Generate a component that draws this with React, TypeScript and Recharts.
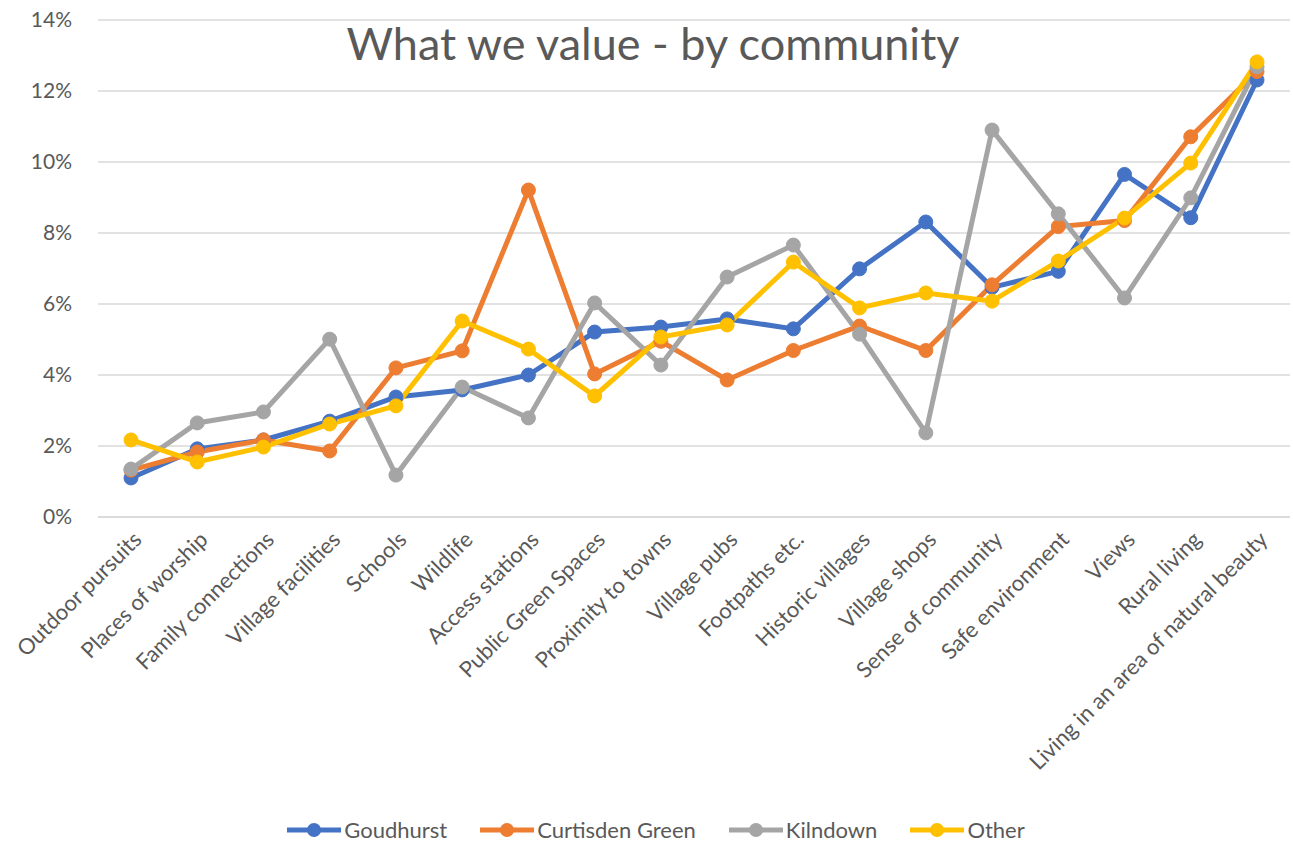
import {CartesianGrid, Line, LineChart, XAxis, YAxis} from 'recharts';

const categories = [
  'Outdoor pursuits',
  'Places of worship',
  'Family connections',
  'Village facilities',
  'Schools',
  'Wildlife',
  'Access  stations',
  'Public Green Spaces',
  'Proximity to towns',
  'Village pubs',
  'Footpaths etc.',
  'Historic villages',
  'Village shops',
  'Sense of community',
  'Safe environment',
  'Views',
  'Rural living',
  'Living in an area of natural beauty',
];

const goudhurst = [1.1, 1.92, 2.17, 2.7, 3.38, 3.58, 4.0, 5.21, 5.35, 5.58, 5.3, 6.99, 8.31, 6.47, 6.92, 9.65, 8.43, 12.31];
const curtisdenGreen = [1.32, 1.83, 2.17, 1.86, 4.2, 4.68, 9.21, 4.03, 4.95, 3.86, 4.69, 5.38, 4.69, 6.54, 8.18, 8.35, 10.71, 12.55];
const kilndown = [1.35, 2.65, 2.96, 5.01, 1.18, 3.66, 2.79, 6.03, 4.28, 6.76, 7.66, 5.15, 2.37, 10.9, 8.54, 6.17, 8.99, 12.68];
const other = [2.17, 1.55, 1.97, 2.62, 3.13, 5.52, 4.73, 3.41, 5.07, 5.41, 7.18, 5.89, 6.31, 6.08, 7.21, 8.42, 9.97, 12.82];

const yTicks = [0, 2, 4, 6, 8, 10, 12, 14];

const series = [
  {key: 'goudhurst', name: 'Goudhurst', color: '#4472C4', values: goudhurst},
  {key: 'curtisden', name: 'Curtisden Green', color: '#ED7D31', values: curtisdenGreen},
  {key: 'kilndown', name: 'Kilndown', color: '#A5A5A5', values: kilndown},
  {key: 'other', name: 'Other', color: '#FFC000', values: other},
];

const data = categories.map((name, i) => {
  const row: Record<string, string | number> = {name};
  series.forEach((s) => {
    row[s.key] = s.values[i];
  });
  return row;
});

const font = 'Lato, "Open Sans", sans-serif';
const textColor = '#595959';

function CategoryTick(props: any) {
  const {x, y, payload} = props;
  return (
    <text
      transform={`translate(${x + 8},${y + 12}) rotate(-45)`}
      textAnchor="end"
      dominantBaseline="middle"
      fontSize={22}
      fontFamily={font}
      fill={textColor}
    >
      {payload.value}
    </text>
  );
}

// legend drawn as a plain div so it does not shift the plot area
function ChartLegend() {
  return (
    <div
      style={{
        position: 'absolute',
        top: 817,
        left: 0,
        width: 1293,
        height: 26,
        boxSizing: 'border-box',
        paddingLeft: 18,
        display: 'flex',
        justifyContent: 'center',
        alignItems: 'center',
        gap: 32,
        fontFamily: font,
        fontSize: 22,
        lineHeight: '26px',
        color: textColor,
      }}
    >
      {series.map((s) => (
        <div key={s.key} style={{display: 'flex', alignItems: 'center'}}>
          <svg width={56} height={18} style={{marginRight: 2}}>
            <line x1={1} y1={9} x2={55} y2={9} stroke={s.color} strokeWidth={5} />
            <circle cx={28} cy={9} r={7} fill={s.color} />
          </svg>
          <span>{s.name}</span>
        </div>
      ))}
    </div>
  );
}

export default function App() {
  return (
    <div style={{position: 'fixed', top: 0, left: 0, width: 1293, height: 843, background: '#fff'}}>
      <LineChart
        width={1293}
        height={843}
        data={data}
        margin={{top: 20, right: 3, left: 0, bottom: 0}}
      >
        <CartesianGrid vertical={false} stroke="#d9d9d9" strokeWidth={1.5} />
        <XAxis
          dataKey="name"
          interval={0}
          height={326}
          padding={{left: 33, right: 33}}
          tick={<CategoryTick />}
          tickLine={false}
          axisLine={{stroke: '#d9d9d9', strokeWidth: 1.5}}
        />
        <YAxis
          width={98}
          domain={[0, 14]}
          ticks={yTicks}
          tickFormatter={(v) => `${v}%`}
          tick={{fontSize: 21, fill: textColor, fontFamily: font}}
          tickLine={false}
          axisLine={false}
          tickMargin={20}
        />
        {series.map((s) => (
          <Line
            key={s.key}
            type="linear"
            dataKey={s.key}
            name={s.name}
            stroke={s.color}
            strokeWidth={5}
            dot={{r: 7, fill: s.color, stroke: s.color, strokeWidth: 1}}
            activeDot={false}
            isAnimationActive={false}
          />
        ))}
      </LineChart>
      <ChartLegend />
      <div
        style={{
          position: 'absolute',
          top: 16,
          left: 0,
          width: 1293,
          boxSizing: 'border-box',
          paddingLeft: 13,
          textAlign: 'center',
          fontFamily: font,
          fontSize: 45,
          color: textColor,
          pointerEvents: 'none',
        }}
      >
        What we value - by community
      </div>
    </div>
  );
}
